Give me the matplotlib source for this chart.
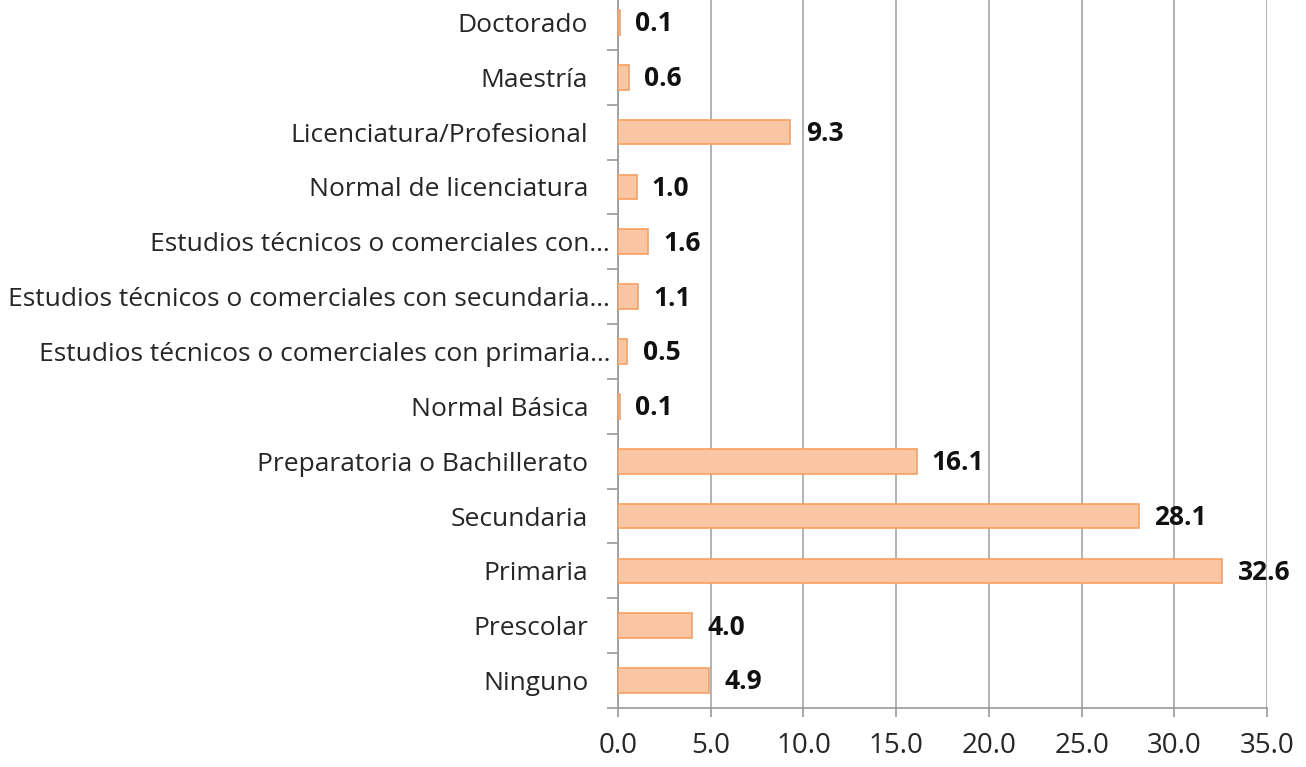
import matplotlib
matplotlib.use("Agg")
import matplotlib.pyplot as plt
import matplotlib.transforms as mtrans
import numpy as np

categories = ["Ninguno", "Prescolar", "Primaria", "Secundaria",
              "Preparatoria o Bachillerato", "Normal Básica",
              "Estudios técnicos o comerciales con primaria…",
              "Estudios técnicos o comerciales con secundaria…",
              "Estudios técnicos o comerciales con…",
              "Normal de licenciatura", "Licenciatura/Profesional",
              "Maestría", "Doctorado"]
values = [4.9, 4.0, 32.6, 28.1, 16.1, 0.1, 0.5, 1.1, 1.6, 1.0, 9.3, 0.6, 0.1]
xticks = [0, 5, 10, 15, 20, 25, 30, 35]

plt.rcParams['font.family'] = ['Open Sans', 'DejaVu Sans']

fig = plt.figure(figsize=(13.06, 7.67), dpi=100)
ax = fig.add_axes([618/1306, 1-708/767, (1267-618)/1306, 713/767])

y = np.arange(len(categories))
ax.barh(y, values, height=0.45, color="#FBC6A3", edgecolor="#F7A062", linewidth=1.2, zorder=3)

for yi, v in zip(y, values):
    ax.annotate(f"{v:.1f}", (v, yi), xytext=(11, -1), textcoords="offset points",
                va="center", ha="left", fontsize=19, fontweight="bold", color="#111111")

ax.set_xlim(0, 35)
ax.set_ylim(-0.5, len(categories) - 0.5)
ax.set_xticks(xticks)
ax.set_xticklabels([f"{t:.1f}" for t in xticks], fontsize=20, color="#262626")
ax.set_yticks(y)
ax.set_yticklabels(categories, fontsize=19, color="#262626")
ax.tick_params(axis="y", length=0, pad=21.5)
ax.set_yticks(np.arange(-0.5, len(categories), 1), minor=True)
ax.tick_params(axis="y", which="minor", length=8, color="#999999", width=1.2)
ax.tick_params(axis="x", length=6.5, color="#999999", width=1.2, pad=11)

# labels truncated with an ellipsis sit slightly further right in the reference
for lab in ax.get_yticklabels():
    if lab.get_text().endswith("…"):
        lab.set_transform(lab.get_transform() + mtrans.ScaledTranslation(22/100, 0, fig.dpi_scale_trans))

ax.grid(axis="x", color="#A6A6A6", linewidth=1.2, zorder=0)
for s in ["top", "right"]:
    ax.spines[s].set_visible(False)
for s in ["left", "bottom"]:
    ax.spines[s].set_color("#999999")
    ax.spines[s].set_linewidth(1.2)

fig.savefig("out.png", dpi=100)
